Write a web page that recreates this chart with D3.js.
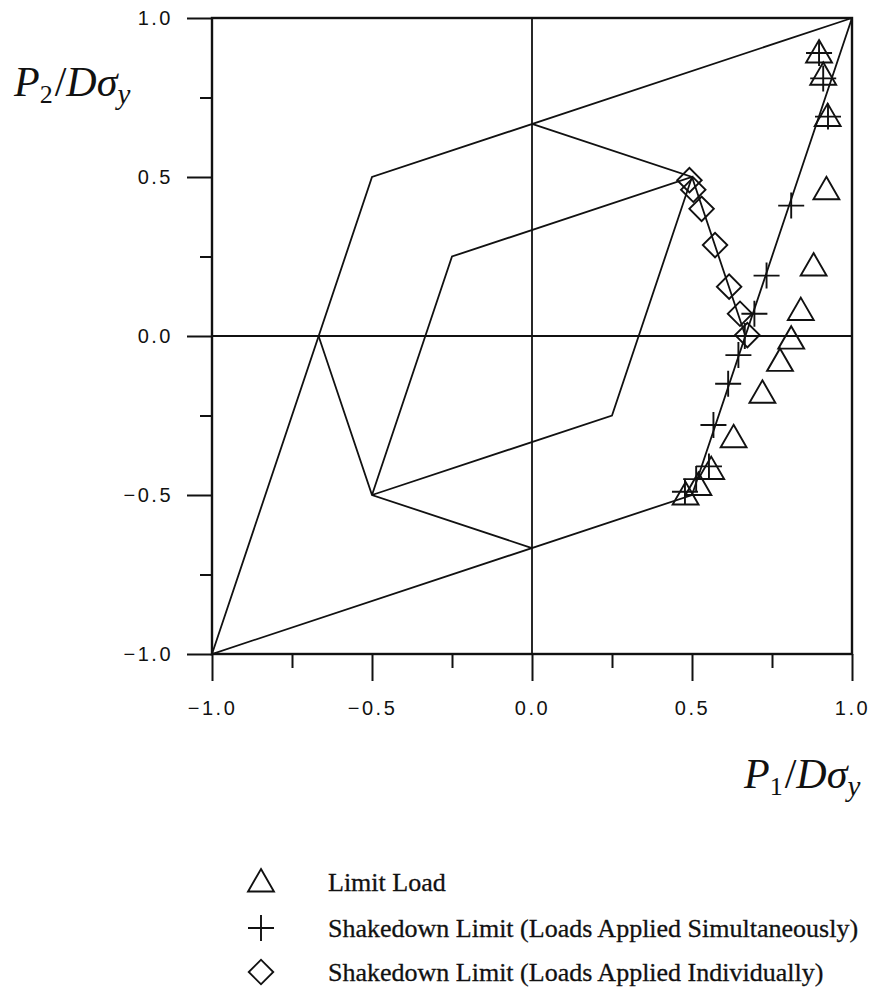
<!DOCTYPE html>
<html>
<head>
<meta charset="utf-8">
<script src="https://cdn.jsdelivr.net/npm/d3@7/dist/d3.min.js"></script>
<style>
  body { margin: 0; background: #fff; }
  svg { display: block; }
  .tick text { font-family: "Liberation Sans", Arial, sans-serif; font-size: 20px; letter-spacing: 2.5px; fill: #111; }
  .title { font-family: "Liberation Serif", "Times New Roman", serif; font-size: 42px; fill: #111; }
  .legend text { font-family: "Liberation Serif", "Times New Roman", serif; font-size: 26px; fill: #111; stroke: #111; stroke-width: 0.3px; }
</style>
</head>
<body>
<svg id="chart" width="877" height="991"></svg>
<script>
// Axis ticks (every 0.25, labelled every 0.5)
const tickValues = [-1, -0.75, -0.5, -0.25, 0, 0.25, 0.5, 0.75, 1];
const majorTicks = [-1, -0.5, 0, 0.5, 1];
const tickLabels = ["\u22121.0", "\u22120.5", "0.0", "0.5", "1.0"];

// Limit surface and shakedown domain boundaries (P1/Dσy, P2/Dσy)
const outerBoundary = [[1, 1], [-0.5, 0.5], [-1, -1], [0.5, -0.5], [1, 1]];
const innerBoundary = [[-0.5, -0.5], [-0.25, 0.25], [0.5, 0.5], [0.25, -0.25], [-0.5, -0.5]];
const upperBranch = [[0, 0.667], [0.5, 0.5], [0.667, 0]];
const lowerBranch = [[0, -0.667], [-0.5, -0.5], [-0.667, 0]];

// Computed points
const limitLoad = [
  [0.897, 0.89], [0.91, 0.82], [0.924, 0.69], [0.92, 0.46], [0.88, 0.22],
  [0.84, 0.08], [0.81, -0.01], [0.775, -0.08], [0.72, -0.18], [0.63, -0.32],
  [0.56, -0.42], [0.52, -0.47], [0.48, -0.50]
];
const shakedownSimultaneous = [
  [0.897, 0.89], [0.91, 0.81], [0.925, 0.69], [0.81, 0.41], [0.733, 0.19],
  [0.695, 0.07], [0.665, 0.0], [0.645, -0.06], [0.613, -0.15], [0.567, -0.28],
  [0.553, -0.41], [0.513, -0.45], [0.478, -0.49]
];
const shakedownIndividual = [
  [0.492, 0.49], [0.504, 0.46], [0.53, 0.40], [0.572, 0.286],
  [0.616, 0.155], [0.65, 0.07], [0.673, 0.003]
];

const legendLabels = [
  "Limit Load",
  "Shakedown Limit (Loads Applied Simultaneously)",
  "Shakedown Limit (Loads Applied Individually)"
];
const legendSymbols = ["triangle", "plus", "diamond"];

const ink = "#111";
const svg = d3.select("#chart");

const x = d3.scaleLinear().domain([-1, 1]).range([212, 852]);
const y = d3.scaleLinear().domain([-1, 1]).range([654, 18]);

const labelFor = v => {
  const i = majorTicks.indexOf(v);
  return i >= 0 ? tickLabels[i] : "";
};

// Left axis
const gy = svg.append("g")
  .attr("transform", `translate(${x(-1)},0)`)
  .call(d3.axisLeft(y).tickValues(tickValues).tickFormat(labelFor).tickSize(25).tickPadding(14));
gy.select(".domain").remove();
gy.selectAll(".tick line")
  .attr("x2", d => majorTicks.includes(d) ? -25 : -12)
  .attr("stroke", ink).attr("stroke-width", 2);

// Bottom axis
const gx = svg.append("g")
  .attr("transform", `translate(0,${y(-1)})`)
  .call(d3.axisBottom(x).tickValues(tickValues).tickFormat(labelFor).tickSize(27).tickPadding(20));
gx.select(".domain").remove();
gx.selectAll(".tick line")
  .attr("y2", d => majorTicks.includes(d) ? 27 : 14)
  .attr("stroke", ink).attr("stroke-width", 2);

// Frame
svg.append("rect")
  .attr("x", x(-1)).attr("y", y(1))
  .attr("width", x(1) - x(-1)).attr("height", y(-1) - y(1))
  .attr("fill", "none").attr("stroke", ink).attr("stroke-width", 2.4);

// Zero lines
svg.append("line").attr("x1", x(0)).attr("x2", x(0)).attr("y1", y(1)).attr("y2", y(-1))
  .attr("stroke", ink).attr("stroke-width", 1.8);
svg.append("line").attr("x1", x(-1)).attr("x2", x(1)).attr("y1", y(0)).attr("y2", y(0))
  .attr("stroke", ink).attr("stroke-width", 1.8);

// Boundary lines
const line = d3.line().x(d => x(d[0])).y(d => y(d[1]));
[outerBoundary, innerBoundary, upperBranch, lowerBranch].forEach(pts => {
  svg.append("path").attr("d", line(pts))
    .attr("fill", "none").attr("stroke", ink).attr("stroke-width", 1.8)
    .attr("stroke-linejoin", "miter");
});

// Marker shapes
const triangle = d3.symbol().type(d3.symbolTriangle).size(290)();
const plus = "M-13,0H13M0,-13V13";
const diamond = d3.symbol().type(d3.symbolSquare).size(300)();

function drawMarker(g, kind) {
  if (kind === "triangle") {
    g.append("path").attr("d", triangle).attr("transform", "translate(0,2)");
  } else if (kind === "plus") {
    g.append("path").attr("d", plus);
  } else {
    g.append("path").attr("d", diamond).attr("transform", "rotate(45)");
  }
  g.selectAll("path").attr("fill", "none").attr("stroke", ink).attr("stroke-width", 1.9);
}

const markerSets = [
  [limitLoad, "triangle"],
  [shakedownSimultaneous, "plus"],
  [shakedownIndividual, "diamond"]
];
markerSets.forEach(([pts, kind]) => {
  svg.append("g").selectAll("g").data(pts).join("g")
    .attr("transform", d => `translate(${x(d[0])},${y(d[1])})`)
    .each(function () { drawMarker(d3.select(this), kind); });
});

// Axis titles
function axisTitle(tx, ty, sub) {
  const t = svg.append("text").attr("class", "title").attr("x", tx).attr("y", ty);
  t.append("tspan").attr("font-style", "italic").text("P");
  t.append("tspan").attr("font-size", "26px").attr("dy", 7).text(sub);
  t.append("tspan").attr("dy", -7).attr("dx", 2).text("/");
  t.append("tspan").attr("font-style", "italic").text("D\u03C3");
  t.append("tspan").attr("font-style", "italic").attr("font-size", "29px").attr("dy", 8).text("y");
}
axisTitle(14, 96, "2");
axisTitle(744, 788, "1");

// Legend
const legend = svg.append("g").attr("class", "legend");
const legendY = [882, 928, 972];
legendLabels.forEach((label, i) => {
  const g = legend.append("g").attr("transform", `translate(261,${legendY[i]})`);
  drawMarker(g, legendSymbols[i]);
  legend.append("text").attr("x", 328).attr("y", legendY[i] + 9).text(label);
});
</script>
</body>
</html>
